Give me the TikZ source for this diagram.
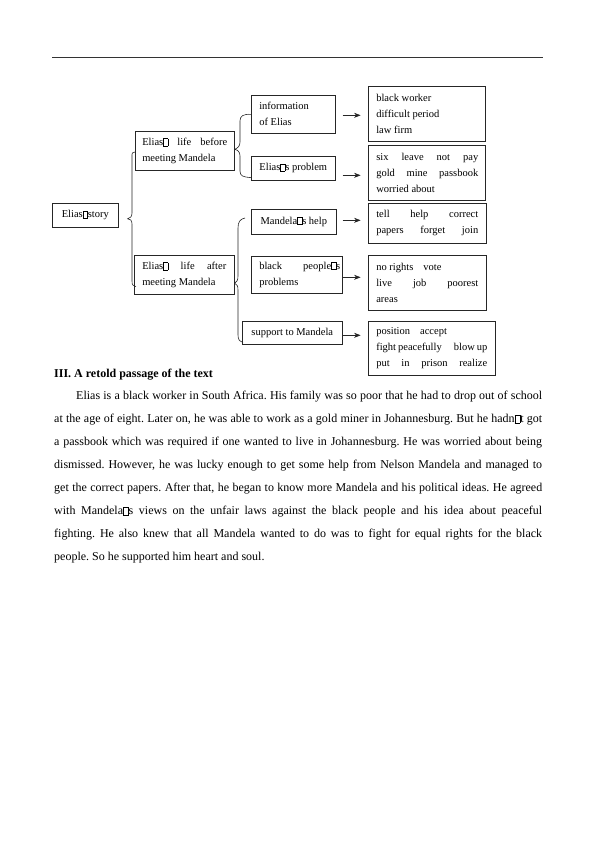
\documentclass[tikz,border=0pt]{standalone}
\usepackage{fontspec}
\setmainfont{Liberation Serif}
\usetikzlibrary{calc,arrows.meta}
\newcommand\qb{{\fboxsep=0pt\fboxrule=0.4pt\fbox{\rule{0pt}{6.8pt}\hspace{4.2pt}}}}
\newcommand\qbb{{\fboxsep=0pt\fboxrule=0.4pt\fbox{\rule{0pt}{7.6pt}\hspace{4.8pt}}}}
\newcommand\jl[2]{\makebox[#1][s]{#2}}
\tikzset{
  bx/.style={draw=black!85, line width=0.6pt, inner sep=0pt, anchor=north west,
    font=\fontsize{10.5}{16}\selectfont},
  arr/.style={-{Stealth[length=6.5pt,width=5pt]}, line width=0.6pt, black!85},
  brace/.style={line width=0.6pt, black!85},
}
\begin{document}
\frenchspacing
\begin{tikzpicture}[x=1pt,y=-1pt]
\useasboundingbox (0,0) rectangle (595,841);
\fill[white] (0,0) rectangle (595,841);
% header rule
\draw[line width=0.75pt, black!80] (52,57) -- (543,57);

% level 0
\node[bx, minimum width=66pt, minimum height=24pt] (story) at (52,203) {Elias\qb story};

% level 1
\node[bx, minimum height=39pt] (before) at (135,131)
  {\hspace*{7pt}\parbox{85pt}{\fontsize{10.5}{15.5}\selectfont\jl{85pt}{Elias\qb{} life before}\\meeting Mandela}\hspace*{7pt}};
\node[bx, minimum height=39pt] (after) at (134,255)
  {\hspace*{8pt}\parbox{84pt}{\fontsize{10.5}{15.5}\selectfont\jl{84pt}{Elias\qb{} life after}\\meeting Mandela}\hspace*{8pt}};

% level 2
\node[bx, minimum height=38pt] (info) at (251,95)
  {\hspace*{8pt}\parbox{68pt}{information\\of Elias}\hspace*{8pt}};
\node[bx, minimum width=84pt, minimum height=24pt] (problem) at (251,156) {Elias\qb s problem};
\node[bx, minimum width=85pt, minimum height=25pt] (help) at (251,209) {Mandela\qb s help};
\node[bx, minimum height=37pt] (black) at (251,256)
  {\hspace*{8pt}\parbox{81pt}{\jl{81pt}{black people\qb s}\\problems}\hspace*{2pt}};
\node[bx, minimum width=100pt, minimum height=23pt] (support) at (242,321) {support to Mandela};

% level 3
\node[bx, minimum height=55pt] (r1) at (368,86)
  {\hspace*{8pt}\parbox{102pt}{black worker\\difficult period\\law firm}\hspace*{7pt}};
\node[bx, minimum height=55pt] (r2) at (368,145)
  {\hspace*{8pt}\parbox{102pt}{\jl{102pt}{six leave not pay}\\\jl{102pt}{gold mine passbook}\\worried about}\hspace*{7pt}};
\node[bx, minimum height=40pt] (r3) at (368,203)
  {\hspace*{8pt}\parbox{102pt}{\jl{102pt}{tell help correct}\\\jl{102pt}{papers forget join}}\hspace*{8pt}};
\node[bx, minimum height=55pt] (r4) at (368,255)
  {\hspace*{8pt}\parbox{102pt}{no rights\hspace{10pt}vote\\\jl{102pt}{live job poorest}\\areas}\hspace*{8pt}};
\node[bx, minimum height=54pt] (r5) at (368,321)
  {\hspace*{8pt}\parbox{111pt}{position\hspace{10pt}accept\\\jl{111pt}{fight peacefully\hspace{12pt}blow up}\\\jl{111pt}{put in prison realize}}\hspace*{8pt}};

% braces
\draw[brace] ($(before.north west)+(0,21)$) .. controls (132,152) and (132,153) .. (132,157)
  -- (132,213) .. controls (132,217) and (130,218) .. ($(story.east)+(9,3.5)$)
  .. controls (130,219) and (132,220) .. (132,224)
  -- (132,281) .. controls (132,285) and (133,286) .. ($(after.south west)+(2,-8)$);
\draw[brace] (info.west) .. controls (243,114) and (240,116) .. (240,121)
  -- (240,142) .. controls (240,146) and (238,148) .. ($(before.east)+(0,-1.5)$)
  .. controls (238,150) and (240,152) .. (240,156)
  -- (240,171) .. controls (240,176) and (243,177) .. ($(problem.south west)+(0,-3)$);
\draw[brace] ($(help.north west)+(-6,9)$) .. controls (240,219) and (238,222) .. (238,228)
  -- (238,276) .. controls (238,280) and (237,282) .. ($(after.east)+(0,8.5)$)
  .. controls (237,284) and (238,286) .. (238,290)
  -- (238,335) .. controls (238,340) and (240,342) .. ($(support.south west)+(1,-2)$);

% arrows
\draw[arr] ($(info.east)+(7,1)$) -- ++(18,0);
\draw[arr] ($(problem.east)+(7,7)$) -- ++(18,0);
\draw[arr] ($(help.east)+(6,-1.5)$) -- ++(18,0);
\draw[arr] ($(black.east)+(0,2.5)$) -- ++(18,0);
\draw[arr] ($(support.east)+(0,2.5)$) -- ++(18,0);

% text
\node[anchor=base west, inner sep=0pt, font=\bfseries\fontsize{12}{14}\selectfont] (head) at (54,377)
  {III. A retold passage of the text};
\node[anchor=base west, inner sep=0pt, font=\fontsize{12}{23}\selectfont] (para) at (54,399.5)
  {\parbox[t]{488pt}{%
\jl{488pt}{\hspace*{22pt}Elias is a black worker in South Africa. His family was so poor that he had to drop out of school}\\
\jl{488pt}{at the age of eight. Later on, he was able to work as a gold miner in Johannesburg. But he hadn\qbb t got}\\
\jl{488pt}{a passbook which was required if one wanted to live in Johannesburg. He was worried about being}\\
\jl{488pt}{dismissed. However, he was lucky enough to get some help from Nelson Mandela and managed to}\\
\jl{488pt}{get the correct papers. After that, he began to know more Mandela and his political ideas. He agreed}\\
\jl{488pt}{with Mandela\qbb s views on the unfair laws against the black people and his idea about peaceful}\\
\jl{488pt}{fighting. He also knew that all Mandela wanted to do was to fight for equal rights for the black}\\
people. So he supported him heart and soul.}};
\end{tikzpicture}
\end{document}
